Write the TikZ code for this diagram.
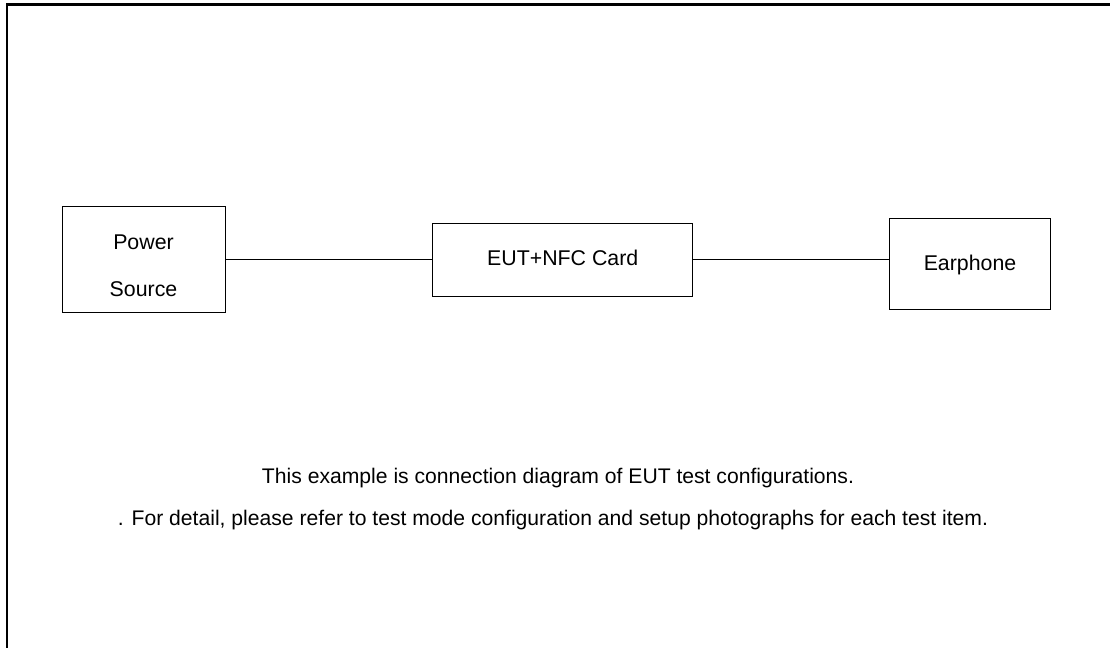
\documentclass[tikz,border=0pt]{standalone}
\usepackage{fontspec}
\setmainfont{Liberation Sans}
\begin{document}
\begin{tikzpicture}[x=0.75pt,y=-0.75pt,
  box/.style={draw=black,line width=0.75pt,rectangle,inner sep=0pt,fill=white},
  txt/.style={font=\fontsize{16}{35.25}\selectfont,align=center,inner sep=0pt},
  note/.style={font=\fontsize{15.85}{19}\selectfont,inner sep=0pt},
  wire/.style={draw=black,line width=1pt}]
\useasboundingbox (0,0) rectangle (1110,647);
\fill[white] (0,0) rectangle (1110,647);
\draw[line width=1.7pt] (6.8,650) -- (6.8,4.5) -- (1112,4.5);
\node[box,minimum width=163pt*0.75,minimum height=106pt*0.75] (ps) at (143.5,259.3) {};
\node[txt] (pst) at (143.5,265.5) {Power\\Source};
\node[box,minimum width=260pt*0.75,minimum height=72.7pt*0.75] (eut) at (562.7,259.7) {};
\node[txt] (eutt) at (562.7,257.7) {EUT+NFC Card};
\node[box,minimum width=161.7pt*0.75,minimum height=91.3pt*0.75] (ear) at (970,264.3) {};
\node[txt] (eart) at (970,265) {Earphone};
\draw[wire] (ps.east) -- (ps.east -| eut.west);
\draw[wire] (eut.east) -- (eut.east -| ear.west);
\node[note] (n1) at (558,478) {This example is connection diagram of EUT test configurations.};
\node[note] (n2) at (553,520) {. For detail, please refer to test mode configuration and setup photographs for each test item.};
\end{tikzpicture}
\end{document}
